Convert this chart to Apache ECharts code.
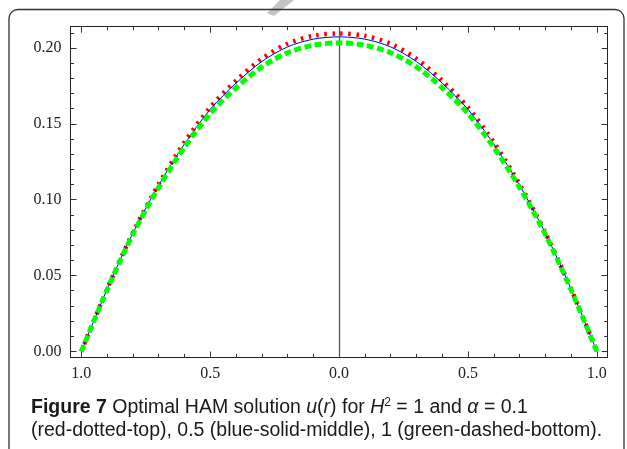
<!DOCTYPE html>
<html>
<head>
<meta charset="utf-8">
<script src="https://cdn.jsdelivr.net/npm/echarts@6/dist/echarts.min.js"></script>
<style>
  html, body { margin: 0; padding: 0; background: #fff; }
  #chart { width: 627px; height: 449px; }
</style>
</head>
<body>
<div id="chart"></div>
<script>
// radius r from -1 to 1
var rVals = [-1, -0.9, -0.8, -0.7, -0.6, -0.5, -0.4, -0.3, -0.2, -0.1, 0,
             0.1, 0.2, 0.3, 0.4, 0.5, 0.6, 0.7, 0.8, 0.9, 1];
// alpha = 0.1 (red, dotted, top)
var uRed = [0, 0.0411, 0.0783, 0.1102, 0.1378, 0.1608, 0.1784, 0.1929, 0.2028, 0.2080, 0.2095,
            0.2080, 0.2028, 0.1929, 0.1784, 0.1608, 0.1378, 0.1102, 0.0783, 0.0411, 0];
// alpha = 0.5 (blue, solid, middle)
var uBlue = [0, 0.0410, 0.0780, 0.1095, 0.1367, 0.1595, 0.1768, 0.1910, 0.2007, 0.2058, 0.2073,
             0.2058, 0.2007, 0.1910, 0.1768, 0.1595, 0.1367, 0.1095, 0.0780, 0.0410, 0];
// alpha = 1 (green, dashed, bottom)
var uGreen = [0, 0.0406, 0.0772, 0.1081, 0.1345, 0.1567, 0.1737, 0.1875, 0.1968, 0.2018, 0.2033,
              0.2018, 0.1968, 0.1875, 0.1737, 0.1567, 0.1345, 0.1081, 0.0772, 0.0406, 0];

var xMajor = [-1, -0.5, 0, 0.5, 1];
var xMinor = [-0.9, -0.8, -0.7, -0.6, -0.4, -0.3, -0.2, -0.1,
              0.1, 0.2, 0.3, 0.4, 0.6, 0.7, 0.8, 0.9];
var yMajor = [0, 0.05, 0.1, 0.15, 0.2];
var yMinor = [0.01, 0.02, 0.03, 0.04, 0.06, 0.07, 0.08, 0.09,
              0.11, 0.12, 0.13, 0.14, 0.16, 0.17, 0.18, 0.19, 0.21];

var xMin = -1.042, xMax = 1.042;
var yMin = -0.004, yMax = 0.214;

function pairs(ys) {
  return rVals.map(function (r, i) { return [r, ys[i]]; });
}

function makeAxis(kind, pos, ticks, len, withLine, withLabel) {
  var ax = {
    type: 'value',
    position: pos,
    min: kind === 'x' ? xMin : yMin,
    max: kind === 'x' ? xMax : yMax,
    splitLine: { show: false },
    axisLine: { show: withLine, onZero: false, lineStyle: { color: '#222', width: 1 } },
    axisTick: {
      show: true, inside: true, length: len, customValues: ticks,
      lineStyle: { color: '#333', width: 1 }
    },
    axisLabel: { show: false }
  };
  if (withLabel) {
    ax.axisLabel = {
      show: true,
      customValues: ticks,
      margin: kind === 'x' ? 8 : 9,
      color: '#222',
      fontFamily: 'Liberation Serif',
      fontSize: 16,
      formatter: function (v) {
        return kind === 'x' ? Math.abs(v).toFixed(1) : v.toFixed(2);
      }
    };
  }
  return ax;
}

var capFont = 'Liberation Sans';
var capSize = 19.5;

var chart = echarts.init(document.getElementById('chart'));
chart.setOption({
  animation: false,
  backgroundColor: '#fff',
  grid: { left: 70.5, right: 19.3, top: 26.7, bottom: 91.5, containLabel: false },
  xAxis: [
    makeAxis('x', 'bottom', xMajor, 6, true, true),
    makeAxis('x', 'bottom', xMinor, 3.5, false, false),
    makeAxis('x', 'top', xMajor, 6, true, false),
    makeAxis('x', 'top', xMinor, 3.5, false, false)
  ],
  yAxis: [
    makeAxis('y', 'left', yMajor, 6, true, true),
    makeAxis('y', 'left', yMinor, 3.5, false, false),
    makeAxis('y', 'right', yMajor, 6, true, false),
    makeAxis('y', 'right', yMinor, 3.5, false, false)
  ],
  series: [
    {
      type: 'line', data: pairs(uRed), smooth: 0.3, showSymbol: false, z: 3,
      lineStyle: { color: '#ff0000', width: 4.5, type: [2.5, 5.5], cap: 'butt' },
      markLine: {
        silent: true, symbol: 'none', label: { show: false },
        lineStyle: { color: '#555', width: 1.3, type: 'solid' },
        data: [{ xAxis: 0 }]
      }
    },
    {
      type: 'line', data: pairs(uBlue), smooth: 0.3, showSymbol: false, z: 4,
      lineStyle: { color: '#0000ff', width: 1 }
    },
    {
      type: 'line', data: pairs(uGreen), smooth: 0.3, showSymbol: false, z: 5,
      lineStyle: { color: '#00ff00', width: 5, type: [7, 3.5], cap: 'butt' }
    }
  ],
  graphic: [
    {
      type: 'polygon', z: 0, silent: true,
      shape: { points: [[280, 0], [294, 0], [274, 16], [267, 13]] },
      style: { fill: '#c4c4c4' }
    },
    {
      type: 'rect', z: 1, silent: true,
      shape: { x: 9, y: 9.5, width: 615, height: 470, r: 9 },
      style: { fill: 'none', stroke: '#333', lineWidth: 1.3 }
    },
    {
      type: 'text', left: 31, top: 397, silent: true,
      style: {
        text: '{b|Figure 7} Optimal HAM solution {i|u}({i|r}) for {i|H}{s|2} = 1 and {i|α} = 0.1',
        fontFamily: capFont, fontSize: capSize, fill: '#1a1a1a',
        rich: {
          b: { fontWeight: 'bold', fontFamily: capFont, fontSize: capSize, fill: '#1a1a1a' },
          i: { fontStyle: 'italic', fontFamily: capFont, fontSize: capSize, fill: '#1a1a1a' },
          s: { fontFamily: capFont, fontSize: 12, fill: '#1a1a1a', padding: [0, 0, 9, 0] }
        }
      }
    },
    {
      type: 'text', left: 31, top: 421, silent: true,
      style: {
        text: '(red-dotted-top), 0.5 (blue-solid-middle), 1 (green-dashed-bottom).',
        fontFamily: capFont, fontSize: capSize, fill: '#1a1a1a'
      }
    }
  ]
});
</script>
</body>
</html>
